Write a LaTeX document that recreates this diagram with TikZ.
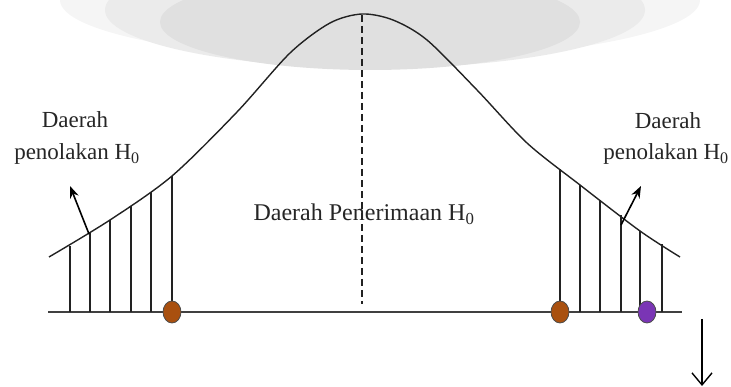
\documentclass[tikz,border=0pt]{standalone}
\usepackage{fontspec}
\setmainfont{Liberation Serif}
\newfontfamily\lserif{Liberation Serif}
\usetikzlibrary{arrows.meta,shapes.geometric}
\definecolor{dotorange}{HTML}{A9500F}
\definecolor{dotpurple}{HTML}{7A35B5}
\definecolor{inkc}{HTML}{222222}
\tikzset{
  curveline/.style={line width=1.4pt, color=inkc},
  hatch/.style={line width=1.2pt, color=inkc},
  axisline/.style={line width=1.6pt, color=black!75},
  midline/.style={line width=1.4pt, color=inkc, dash pattern=on 7pt off 4pt},
  lbl/.style={inner sep=0pt, text=black!85, font=\lserif\fontsize{23}{26}\selectfont, align=center},
  biglbl/.style={inner sep=0pt, text=black!85, font=\lserif\fontsize{24}{27}\selectfont},
  dot/.style={draw=black!70, line width=0.8pt, ellipse, minimum width=18pt, minimum height=22pt, inner sep=0pt},
  ptr/.style={line width=1.6pt, -{Stealth[length=12pt,width=9pt]}},
  downptr/.style={line width=1.4pt, -{Straight Barb[length=12pt,width=20pt]}}
}
\begin{document}
\begin{tikzpicture}[x=1pt,y=-1pt]
\useasboundingbox (0,0) rectangle (731,387);
% faint grey smudge at the top
\begin{scope}
\clip (0,0) rectangle (731,387);
\fill[black!4] (380,0) ellipse [x radius=320, y radius=60];
\fill[black!8] (375,10) ellipse [x radius=270, y radius=58];
\fill[black!12] (370,22) ellipse [x radius=210, y radius=48];
\end{scope}
% axis
\coordinate (axL) at (48,312);
\coordinate (axR) at (682,312);
\draw[axisline] (axL) -- (axR);
% hatch lines
\foreach \x/\t in {70/246, 90/233, 110/220, 131/206, 151/192, 172/176,
                   560/169, 580/185, 600/200, 621/215, 640/231, 662/244}{
  \draw[hatch] (\x,312) -- (\x,\t);
}
% curve
\draw[curveline] plot[smooth, tension=0.5] coordinates {
 (49,257) (110,220) (172,176) (237,112) (290,53) (330,23) (362,14)
 (393,20) (427,40) (477,90) (527,143) (580,185) (640,231) (680,257)};
% centre dashed line
\coordinate (peak) at (362,15);
\coordinate (mbot) at (362,304);
\draw[midline] (peak) -- (mbot);
% dots
\node[dot, fill=dotorange] (o1) at (172,312) {};
\node[dot, fill=dotorange] (o2) at (560,312) {};
\node[dot, fill=dotpurple] (p1) at (647,312) {};
% labels
\node[lbl] (l1) at (75,120) {Daerah};
\node[lbl] (l2) at (77,154) {penolakan H\textsubscript{0}};
\node[lbl] (r1) at (668,121) {Daerah};
\node[lbl] (r2) at (666,154) {penolakan H\textsubscript{0}};
\node[biglbl] (c1) at (364,214) {Daerah Penerimaan H\textsubscript{0}};
% pointers
\coordinate (la) at (89,234);
\coordinate (lb) at (70,186);
\coordinate (ra) at (621,225);
\coordinate (rb) at (641,186);
\draw[ptr] (la) -- (lb);
\draw[ptr] (ra) -- (rb);
\coordinate (da) at (702,319);
\coordinate (db) at (702,386);
\draw[downptr] (da) -- (db);
\end{tikzpicture}
\end{document}
